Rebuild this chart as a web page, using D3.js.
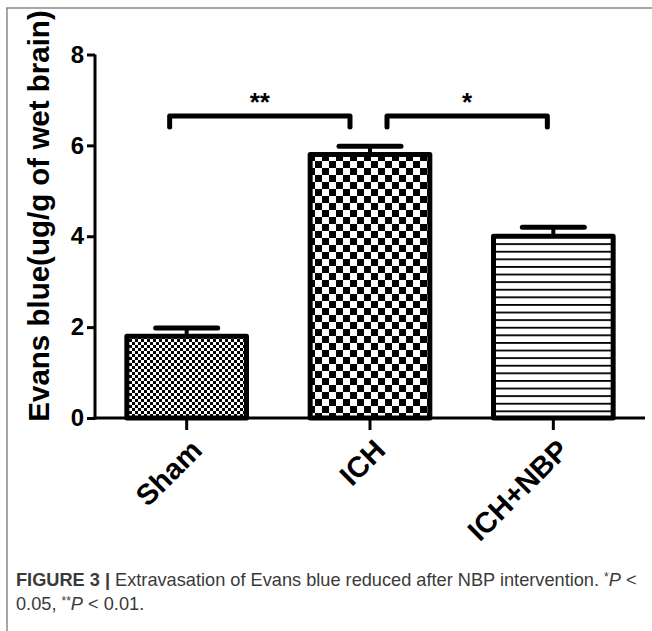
<!DOCTYPE html>
<html>
<head>
<meta charset="utf-8">
<script src="https://cdn.jsdelivr.net/npm/d3@7"></script>
<style>
  body { margin: 0; background: #fff; }
  svg { display: block; }
</style>
</head>
<body>
<div id="chart"></div>
<script>
// data
var groups = ["Sham", "ICH", "ICH+NBP"];
var means = [1.8, 5.8, 4.0];
var sems = [0.18, 0.18, 0.2];
var yTicks = [0, 2, 4, 6, 8];
var sig = [{from: 0, to: 1, label: "**"}, {from: 1, to: 2, label: "*"}];

var W = 652, H = 631;
var svg = d3.select("#chart").append("svg")
    .attr("width", W)
    .attr("height", H);

// patterns
var defs = svg.append("defs");
function checker(id, s) {
  var p = defs.append("pattern")
      .attr("id", id)
      .attr("patternUnits", "userSpaceOnUse")
      .attr("width", s * 2).attr("height", s * 2);
  p.append("rect").attr("width", s * 2).attr("height", s * 2).attr("fill", "#fff");
  p.append("rect").attr("width", s).attr("height", s).attr("fill", "#000");
  p.append("rect").attr("x", s).attr("y", s).attr("width", s).attr("height", s).attr("fill", "#000");
}
checker("fine", 3);
checker("coarse", 7);
var hp = defs.append("pattern")
    .attr("id", "hlines")
    .attr("patternUnits", "userSpaceOnUse")
    .attr("width", 10).attr("height", 7.6);
hp.append("rect").attr("width", 10).attr("height", 7.6).attr("fill", "#fff");
hp.append("rect").attr("y", 0).attr("width", 10).attr("height", 1.8).attr("fill", "#000");
var fills = ["url(#fine)", "url(#coarse)", "url(#hlines)"];

// frame lines of the figure panel
svg.append("line").attr("x1", 7).attr("x2", 7).attr("y1", 8).attr("y2", H)
    .attr("stroke", "#888").attr("stroke-width", 1.5);
svg.append("line").attr("x1", 6).attr("x2", W).attr("y1", 8).attr("y2", 8)
    .attr("stroke", "#888").attr("stroke-width", 1.5);

var x = d3.scaleBand().domain(groups).range([95, 645]).paddingInner(0.32).paddingOuter(0.16);
var y = d3.scaleLinear().domain([0, 8]).range([418, 54.5]);

var g = svg.append("g");

// bars
g.selectAll("rect.bar")
    .data(groups)
    .enter().append("rect")
      .attr("class", "bar")
      .attr("x", function(d) { return x(d) + 2.5; })
      .attr("width", x.bandwidth() - 5)
      .attr("y", function(d, i) { return y(means[i]); })
      .attr("height", function(d, i) { return y(0) - y(means[i]); })
      .attr("fill", function(d, i) { return fills[i]; })
      .attr("stroke", "#000")
      .attr("stroke-width", 5)
      .attr("stroke-linejoin", "round");

// error bars
groups.forEach(function(d, i) {
  var cx = x(d) + x.bandwidth() / 2;
  var top = y(means[i] + sems[i]);
  g.append("line").attr("x1", cx).attr("x2", cx)
      .attr("y1", y(means[i]) - 2).attr("y2", top)
      .attr("stroke", "#000").attr("stroke-width", 4);
  g.append("line").attr("x1", cx - 31).attr("x2", cx + 31)
      .attr("y1", top).attr("y2", top)
      .attr("stroke", "#000").attr("stroke-width", 5).attr("stroke-linecap", "round");
});

// y axis
var yAxis = g.append("g")
    .attr("transform", "translate(95,0)")
    .call(d3.axisLeft(y).tickValues(yTicks).tickSize(8).tickSizeOuter(0).tickPadding(3));
yAxis.select(".domain").attr("stroke-width", 3).attr("d", "M0," + y(8) + "V" + (y(0) + 1.5));
yAxis.selectAll(".tick line").attr("stroke-width", 3);
yAxis.selectAll(".tick text")
    .attr("font-family", "Liberation Sans, Arial, sans-serif")
    .attr("font-weight", "bold")
    .attr("font-size", 24)
    .attr("fill", "#000");

// x axis
var xAxis = g.append("g")
    .attr("transform", "translate(0," + y(0) + ")")
    .call(d3.axisBottom(x).tickSize(12).tickSizeOuter(0).tickFormat(""));
xAxis.select(".domain").attr("stroke-width", 3).attr("d", "M93.5,0H645");
xAxis.selectAll(".tick line").attr("stroke-width", 3);

groups.forEach(function(d) {
  var cx = x(d) + x.bandwidth() / 2;
  g.append("text")
      .attr("transform", "translate(" + (cx + 17) + "," + 452 + ") rotate(-45)")
      .attr("text-anchor", "end")
      .attr("font-family", "Liberation Sans, Arial, sans-serif")
      .attr("font-weight", "bold")
      .attr("font-size", 29)
      .text(d);
});

// y label
g.append("text")
    .attr("transform", "translate(49,216) rotate(-90)")
    .attr("text-anchor", "middle")
    .attr("font-family", "Liberation Sans, Arial, sans-serif")
    .attr("font-weight", "bold")
    .attr("font-size", 29.5)
    .text("Evans blue(ug/g of wet brain)");

// significance brackets
var by = 116;
sig.forEach(function(s) {
  var x1 = x(groups[s.from]) + x.bandwidth() / 2;
  var x2 = x(groups[s.to]) + x.bandwidth() / 2;
  var a = s.from === 0 ? x1 - 17 : x1 + 17;
  var b = x2 - 20;
  if (s.from === 1) { b = x2 - 6; }
  g.append("path")
      .attr("d", "M" + a + "," + (by + 11) + "V" + by + "H" + b + "V" + (by + 11))
      .attr("fill", "none").attr("stroke", "#000").attr("stroke-width", 5)
      .attr("stroke-linecap", "round").attr("stroke-linejoin", "round");
  g.append("text")
      .attr("x", (a + b) / 2)
      .attr("y", 111)
      .attr("text-anchor", "middle")
      .attr("font-family", "Liberation Sans, Arial, sans-serif")
      .attr("font-weight", "bold")
      .attr("font-size", 26)
      .text(s.label);
});

// caption
var cap = svg.append("g")
    .attr("font-family", "Liberation Sans, Arial, sans-serif")
    .attr("font-size", 18.2)
    .attr("fill", "#3a3a3a");
var l1 = cap.append("text").attr("x", 16).attr("y", 586);
l1.append("tspan").attr("font-weight", "bold").text("FIGURE 3 | ");
l1.append("tspan").text("Extravasation of Evans blue reduced after NBP intervention. ");
l1.append("tspan").attr("font-size", 12).attr("dy", -5).text("*");
l1.append("tspan").attr("font-style", "italic").attr("dy", 5).text("P");
l1.append("tspan").text(" <");
var l2 = cap.append("text").attr("x", 16).attr("y", 610);
l2.append("tspan").text("0.05, ");
l2.append("tspan").attr("font-size", 12).attr("dy", -5).text("**");
l2.append("tspan").attr("font-style", "italic").attr("dy", 5).text("P");
l2.append("tspan").text(" < 0.01.");
</script>
</body>
</html>
